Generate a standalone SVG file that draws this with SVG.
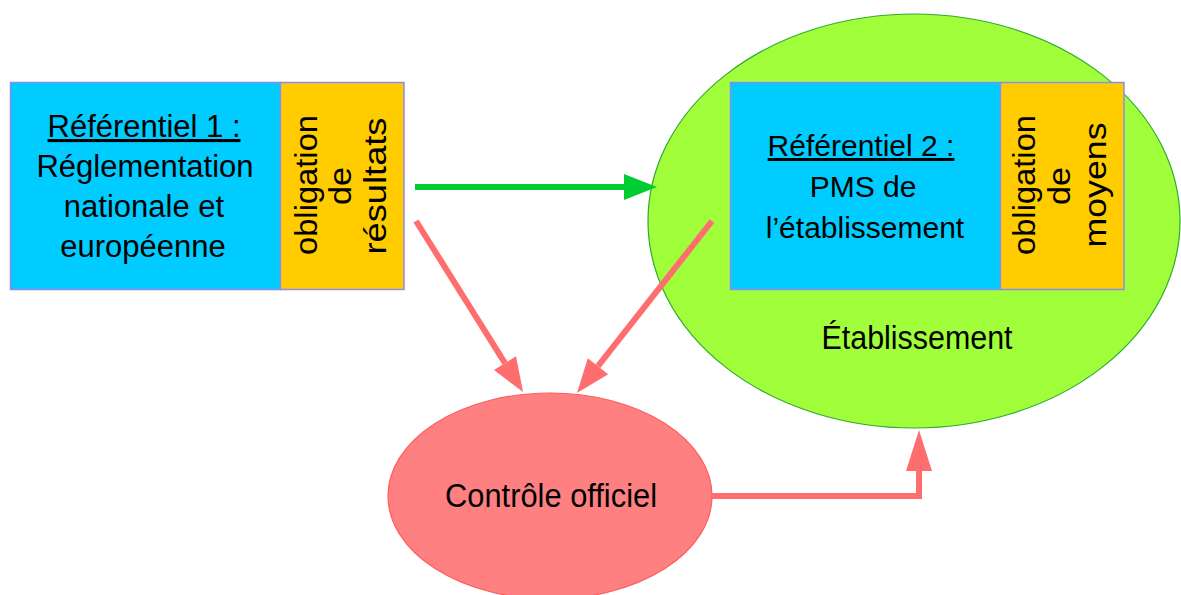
<svg xmlns="http://www.w3.org/2000/svg" width="1181" height="595" viewBox="0 0 1181 595">
  <style>
    .lbl { font-family: "Liberation Sans", Arial, sans-serif; font-size: 31px; fill: #000; text-anchor: middle; }
    .sm { font-size: 30px; }
    .big { font-size: 33px; }
    .vert { font-size: 32px; }
    .u { text-decoration: underline; }
    .blue { fill: #00ccff; stroke: #8c8cf0; stroke-width: 1.5; }
    .orange { fill: #ffcc00; stroke: #8c8cf0; stroke-width: 1.5; }
    .red-line { fill: none; stroke: #ff6e6e; stroke-width: 6; }
    .green-line { fill: none; stroke: #00cc33; stroke-width: 6; }
  </style>
  <defs>
    <marker id="headRed" markerUnits="userSpaceOnUse" markerWidth="36" markerHeight="28" refX="0" refY="13" orient="auto" overflow="visible">
      <path d="M0,0 L34,13 L0,26 z" fill="#ff6e6e"/>
    </marker>
    <marker id="headRedLong" markerUnits="userSpaceOnUse" markerWidth="42" markerHeight="28" refX="0" refY="13" orient="auto" overflow="visible">
      <path d="M0,0 L41,13 L0,26 z" fill="#ff6e6e"/>
    </marker>
    <marker id="headGreen" markerUnits="userSpaceOnUse" markerWidth="36" markerHeight="28" refX="0" refY="13" orient="auto" overflow="visible">
      <path d="M0,0 L33,13 L0,26 z" fill="#00cc33"/>
    </marker>
  </defs>

  <rect width="1181" height="595" fill="#ffffff"/>

  <!-- Establishment ellipse with its internal reference frame -->
  <g id="etablissement">
    <ellipse cx="914" cy="221" rx="266" ry="207" fill="#a0ff3a" stroke="#2faa2f" stroke-width="1.2"/>
    <text class="lbl big" x="917" y="349" textLength="191" lengthAdjust="spacingAndGlyphs">Établissement</text>
  </g>

  <g id="referentiel2">
    <rect class="blue" x="730.5" y="82.5" width="270" height="207"/>
    <rect class="orange" x="1000.5" y="82.5" width="123.5" height="207"/>
    <text class="lbl sm u" x="861" y="156">Référentiel 2 :</text>
    <text class="lbl sm" x="863" y="197">PMS de</text>
    <text class="lbl sm" x="865" y="238">l’établissement</text>
    <text class="lbl vert" transform="translate(1035,185) rotate(-90)" textLength="140" lengthAdjust="spacingAndGlyphs">obligation</text>
    <text class="lbl vert" transform="translate(1070,186) rotate(-90)" textLength="38" lengthAdjust="spacingAndGlyphs">de</text>
    <text class="lbl vert" transform="translate(1106,185) rotate(-90)" textLength="125" lengthAdjust="spacingAndGlyphs">moyens</text>
  </g>

  <g id="referentiel1">
    <rect class="blue" x="10.5" y="82.5" width="270" height="207"/>
    <rect class="orange" x="280.5" y="82.5" width="123.5" height="207"/>
    <text class="lbl u" x="144" y="137">Référentiel 1 :</text>
    <text class="lbl" x="145" y="177">Réglementation</text>
    <text class="lbl" x="144" y="217">nationale et</text>
    <text class="lbl" x="143" y="257">européenne</text>
    <text class="lbl vert" transform="translate(317,185) rotate(-90)" textLength="140" lengthAdjust="spacingAndGlyphs">obligation</text>
    <text class="lbl vert" transform="translate(351,186) rotate(-90)" textLength="38" lengthAdjust="spacingAndGlyphs">de</text>
    <text class="lbl vert" transform="translate(386,186) rotate(-90)" textLength="137" lengthAdjust="spacingAndGlyphs">résultats</text>
  </g>

  <g id="controle">
    <ellipse cx="550" cy="496" rx="162" ry="103" fill="#ff8080" stroke="#ff5c5c" stroke-width="1.2"/>
    <text class="lbl big" x="551" y="507" textLength="212" lengthAdjust="spacingAndGlyphs">Contrôle officiel</text>
  </g>

  <!-- Connectors -->
  <g id="connectors">
    <path class="green-line" d="M415,187 H624" marker-end="url(#headGreen)"/>
    <path class="red-line" d="M416,221 L505,363.2" marker-end="url(#headRed)"/>
    <path class="red-line" d="M712,221 L598,366.2" marker-end="url(#headRed)"/>
    <path class="red-line" d="M712,496 H919 V471" stroke-linejoin="miter" marker-end="url(#headRedLong)"/>
  </g>
</svg>
